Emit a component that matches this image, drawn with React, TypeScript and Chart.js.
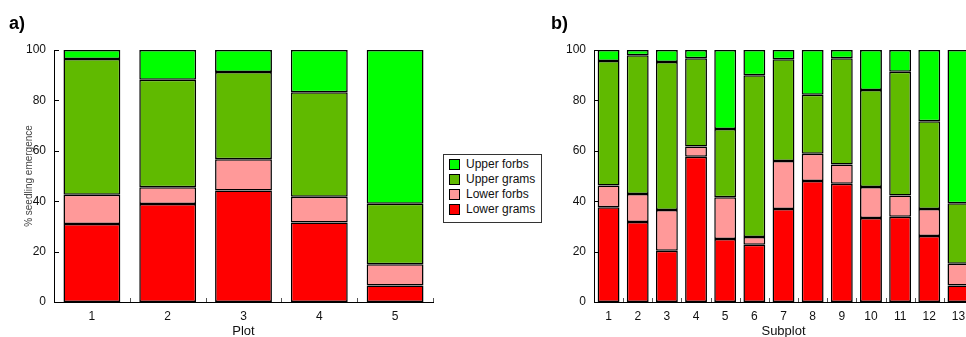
import React, { useEffect, useRef } from "react";
import { Chart, registerables } from "chart.js";

Chart.register(...registerables);

const FONT = "'Liberation Sans', Arial, Helvetica, sans-serif";

const seriesNames = ["Lower grams", "Lower forbs", "Upper grams", "Upper forbs"];
const seriesColors = ["#FF0000", "#FF9999", "#60BA00", "#00FF00"];
const legendOrder = [3, 2, 1, 0];

const yTicks = [0, 20, 40, 60, 80, 100];

// Panel a) – by plot
const plotLabels = ["1", "2", "3", "4", "5"];
const plotLowerGrams = [31.0, 38.9, 44.2, 31.5, 6.5];
const plotLowerForbs = [11.6, 6.6, 12.4, 10.3, 8.5];
const plotUpperGrams = [53.8, 42.7, 34.7, 41.4, 24.0];
const plotUpperForbs = [3.6, 11.8, 8.7, 16.8, 61.0];

// Panel b) – by subplot
const subplotLabels = ["1", "2", "3", "4", "5", "6", "7", "8", "9", "10", "11", "12", "13"];
const subLowerGrams = [37.6, 31.7, 20.3, 57.6, 25.0, 22.7, 36.9, 48.0, 46.9, 33.3, 33.8, 26.2, 6.5];
const subLowerForbs = [8.6, 11.2, 16.2, 4.1, 16.6, 3.1, 19.1, 10.8, 7.7, 12.3, 8.5, 10.7, 8.7];
const subUpperGrams = [49.4, 55.0, 58.7, 35.0, 27.1, 64.2, 40.3, 23.4, 42.1, 38.5, 49.1, 34.8, 24.0];
const subUpperForbs = [4.4, 2.1, 4.8, 3.3, 31.3, 10.0, 3.7, 17.8, 3.3, 15.9, 8.6, 28.3, 60.8];

const insideTicks = {
  id: "insideTicks",
  afterDraw(chart: any) {
    const { ctx, chartArea } = chart;
    const { left, right, bottom } = chartArea;
    const ys = chart.scales.y;
    ctx.save();
    ctx.strokeStyle = "#000";
    ctx.lineWidth = 1;
    ctx.beginPath();
    ys.ticks.forEach((t: any) => {
      const py = Math.round(ys.getPixelForValue(t.value)) + 0.5;
      ctx.moveTo(left, py);
      ctx.lineTo(left + 5, py);
    });
    ctx.stroke();
    const n = chart.data.labels.length;
    const cw = (right - left) / n;
    ctx.strokeStyle = "#555";
    ctx.beginPath();
    for (let i = 1; i <= n; i++) {
      const px = Math.round(left + i * cw) + 0.5;
      ctx.moveTo(px, bottom);
      ctx.lineTo(px, bottom - 4);
    }
    ctx.stroke();
    ctx.restore();
  },
};

function makeConfig(labels: string[], series: number[][], xTitle: string, yTitle: string | null) {
  return {
    type: "bar" as const,
    data: {
      labels,
      datasets: series.map((d, i) => ({
        label: seriesNames[i],
        data: d,
        backgroundColor: seriesColors[i],
        borderColor: "#000",
        borderWidth: 1.5,
        borderSkipped: false,
        categoryPercentage: 1,
        barPercentage: 0.75,
      })),
    },
    options: {
      responsive: false,
      animation: false,
      devicePixelRatio: 1,
      layout: { padding: { top: 50, right: 7, left: 0, bottom: 0 } },
      plugins: { legend: { display: false }, tooltip: { enabled: false } },
      scales: {
        x: {
          stacked: true,
          grid: { display: false, drawTicks: false },
          border: { display: true, color: "#000", width: 1 },
          ticks: { color: "#111", padding: 7, font: { family: FONT, size: 12 } },
          title: {
            display: true,
            text: xTitle,
            color: "#111",
            font: { family: FONT, size: 13, lineHeight: 1 },
            padding: { top: 0, bottom: -1 },
          },
          afterFit: (s: any) => {
            s.height = 35;
          },
        },
        y: {
          stacked: true,
          min: 0,
          max: 100,
          grid: { display: false, drawTicks: false },
          border: { display: true, color: "#000", width: 1 },
          ticks: { stepSize: 20, color: "#111", padding: 8, font: { family: FONT, size: 12 } },
          afterBuildTicks: (s: any) => {
            s.ticks = yTicks.map((v) => ({ value: v }));
          },
          title: {
            display: !!yTitle,
            text: yTitle || "",
            color: "#444",
            font: { family: FONT, size: 10, lineHeight: 1 },
            padding: { top: 24, bottom: 0 },
          },
          afterFit: (s: any) => {
            s.width = 54;
          },
        },
      },
    },
    plugins: [insideTicks],
  };
}

function Panel(props: { left: number; labels: string[]; series: number[][]; xTitle: string; yTitle: string | null }) {
  const ref = useRef<HTMLCanvasElement>(null);
  useEffect(() => {
    if (!ref.current) return;
    const chart = new Chart(ref.current, makeConfig(props.labels, props.series, props.xTitle, props.yTitle) as any);
    return () => chart.destroy();
  }, []);
  return (
    <canvas
      ref={ref}
      width={440}
      height={337}
      style={{ position: "absolute", left: props.left, top: 0, width: 440, height: 337 }}
    />
  );
}

export default function App() {
  return (
    <div
      style={{
        position: "fixed",
        left: 0,
        top: 0,
        width: 966,
        height: 337,
        overflow: "hidden",
        background: "#fff",
        fontFamily: FONT,
      }}
    >
      <Panel
        left={0}
        labels={plotLabels}
        series={[plotLowerGrams, plotLowerForbs, plotUpperGrams, plotUpperForbs]}
        xTitle="Plot"
        yTitle="% seedling emergence"
      />
      <Panel
        left={540}
        labels={subplotLabels}
        series={[subLowerGrams, subLowerForbs, subUpperGrams, subUpperForbs]}
        xTitle="Subplot"
        yTitle={null}
      />
      <div style={{ position: "absolute", left: 9, top: 14, fontSize: 18, lineHeight: "18px", fontWeight: "bold", color: "#000" }}>
        a)
      </div>
      <div style={{ position: "absolute", left: 551, top: 14, fontSize: 18, lineHeight: "18px", fontWeight: "bold", color: "#000" }}>
        b)
      </div>
      <div
        style={{
          position: "absolute",
          left: 443,
          top: 154,
          width: 97,
          height: 65,
          border: "1px solid #333",
          background: "#fff",
          paddingTop: 2,
          boxSizing: "content-box",
        }}
      >
        {legendOrder.map((i) => (
          <div key={i} style={{ position: "relative", height: 15, lineHeight: "15px", fontSize: 12, color: "#111", whiteSpace: "nowrap" }}>
            <span
              style={{
                position: "absolute",
                left: 5,
                top: 2,
                width: 9,
                height: 9,
                background: seriesColors[i],
                border: "1px solid #000",
              }}
            />
            <span style={{ position: "absolute", left: 22, top: 0 }}>{seriesNames[i]}</span>
          </div>
        ))}
      </div>
    </div>
  );
}
